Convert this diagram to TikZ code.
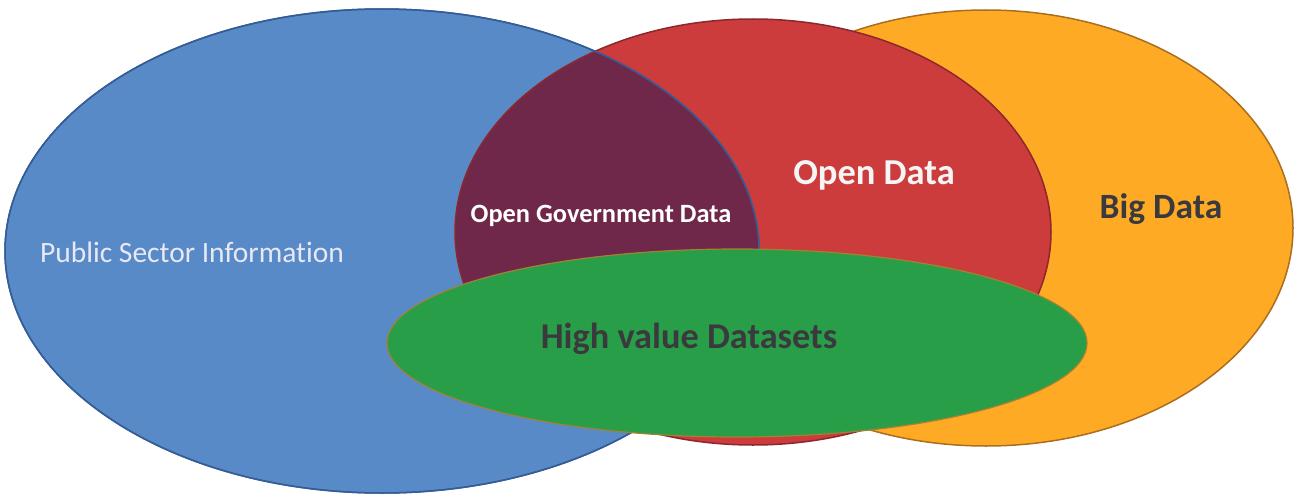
\documentclass[tikz,border=0pt]{standalone}
\usepackage{fontspec}
\setmainfont{Carlito}[Ligatures={NoCommon}]
\usetikzlibrary{math}

\definecolor{psiblue}{RGB}{88,138,200}
\definecolor{psiedge}{RGB}{52,92,150}
\definecolor{odred}{RGB}{204,60,60}
\definecolor{odedge}{RGB}{140,40,45}
\definecolor{bdorange}{RGB}{254,170,36}
\definecolor{bdedge}{RGB}{170,110,30}
\definecolor{ogdpurple}{RGB}{112,40,74}
\definecolor{hvgreen}{RGB}{40,158,72}
\definecolor{hvedge}{RGB}{160,130,50}
\definecolor{darktext}{RGB}{58,58,62}
\definecolor{psitext}{RGB}{232,232,244}

\begin{document}
\begin{tikzpicture}[x=1pt,y=-1pt]
      \tikzmath{\bx = 382; \by = 251; \brx = 377; \bry = 242;
                \rx = 753; \ry = 232; \rrx = 298; \rry = 213;
                \ox = 986; \oy = 228; \orx = 307; \ory = 218;
                \gx = 737; \gy = 343; \grx = 350; \gry = 94;}
      \useasboundingbox (0,0) rectangle (1296,495);
      \path [draw=bdedge, fill=bdorange, line width=1.5pt] (\ox,\oy) ellipse [x radius=\orx, y radius=\ory];
      \path [draw=odedge, fill=odred, line width=1.5pt] (\rx,\ry) ellipse [x radius=\rrx, y radius=\rry];
      \path [draw=psiedge, fill=psiblue, line width=1.5pt] (\bx,\by) ellipse [x radius=\brx, y radius=\bry];
      \begin{scope}
        \clip (\bx,\by) ellipse [x radius=\brx, y radius=\bry];
        \path [draw=odedge, fill=ogdpurple, line width=1.5pt] (\rx,\ry) ellipse [x radius=\rrx, y radius=\rry];
      \end{scope}
      \path [draw=psiedge, line width=1.5pt] (\bx,\by) ellipse [x radius=\brx, y radius=\bry];
      \path [draw=hvedge, fill=hvgreen, line width=1.2pt] (\gx,\gy) ellipse [x radius=\grx, y radius=\gry];
      \node[anchor=base, text=psitext, font=\fontsize{29.5}{32}\selectfont] (psi) at (192,262) {Public Sector Information};
      \node[anchor=base, text=white, font=\bfseries\fontsize{26.4}{29}\selectfont] (ogd) at (601,222) {Open Government Data};
      \node[anchor=base, text=white!96!black, font=\bfseries\fontsize{36.5}{40}\selectfont] (od) at (874,184) {Open Data};
      \node[anchor=base, text=darktext, font=\bfseries\fontsize{35.5}{39}\selectfont] (bd) at (1161,218) {Big Data};
      \node[anchor=base, text=darktext, font=\bfseries\fontsize{36.3}{40}\selectfont] (hvd) at (689,348) {High value Datasets};
\end{tikzpicture}
\end{document}
